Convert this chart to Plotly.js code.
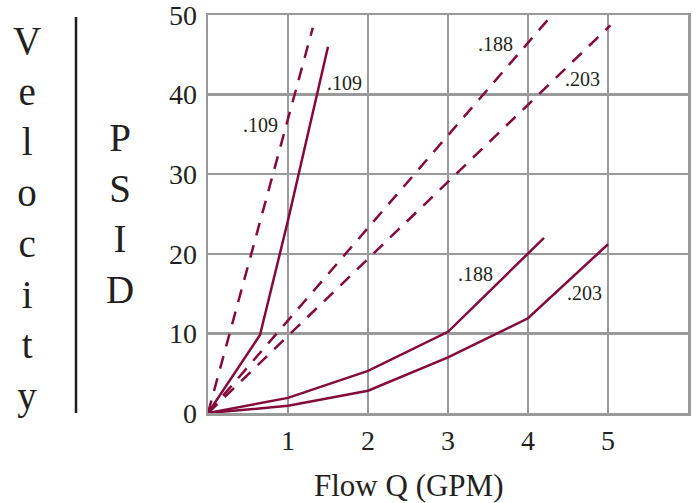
<!DOCTYPE html>
<html>
<head>
<meta charset="utf-8">
<script src="https://cdn.plot.ly/plotly-3.0.1.min.js"></script>
<style>html,body{margin:0;padding:0;background:#fff;}#chart{width:696px;height:503px;}</style>
</head>
<body>
<div id="chart"></div>
<script>
// PSID curves (solid)
const psid109X = [0, 0.65, 1.0, 1.5];
const psid109Y = [0, 9.8, 24.2, 46];
const psid188X = [0, 1, 2, 3, 4.2];
const psid188Y = [0, 1.9, 5.3, 10.2, 22];
const psid203X = [0, 1, 2, 3, 4, 5];
const psid203Y = [0, 0.9, 2.8, 7.0, 11.9, 21.2];
// Velocity curves (dashed)
const vel109X = [0, 1.31];
const vel109Y = [0, 48.4];
const vel188X = [0, 4.3];
const vel188Y = [0, 50];
const vel203X = [0, 5.03];
const vel203Y = [0, 48.7];
// curve labels
const labelText = ['.109', '.109', '.188', '.203', '.188', '.203'];
const labelX = [1.7, 0.65, 3.59, 4.675, 3.34, 4.71];
const labelY = [41.5, 36.2, 46.4, 42.0, 17.5, 15.1];
// ticks
const xTicks = [1, 2, 3, 4, 5];
const yTicks = [0, 10, 20, 30, 40, 50];

const lineColor = '#850a3c';
const textColor = '#231f20';
const font = 'Liberation Serif, Times New Roman, serif';

function tr(x, y, dash) {
  return {x: x, y: y, type: 'scatter', mode: 'lines', hoverinfo: 'skip', cliponaxis: false,
    line: {color: lineColor, width: 2.5, dash: dash}};
}
const dash = '13px,10px';
const data = [
  tr(psid109X, psid109Y, 'solid'),
  tr(psid188X, psid188Y, 'solid'),
  tr(psid203X, psid203Y, 'solid'),
  tr(vel109X, vel109Y, dash),
  tr(vel188X, vel188Y, dash),
  tr(vel203X, vel203Y, dash)
];

const annotations = labelText.map((t, i) => ({
  x: labelX[i], y: labelY[i], xref: 'x', yref: 'y', text: t, showarrow: false,
  font: {family: font, size: 20, color: textColor}
}));
annotations.push({
  x: 0.418, y: -0.181, xref: 'paper', yref: 'paper', text: 'Flow Q (GPM)', showarrow: false,
  xanchor: 'center', yanchor: 'middle', font: {family: font, size: 31, color: textColor}
});
annotations.push({
  x: -0.378, y: 0.488, xref: 'paper', yref: 'paper', text: 'V<br>e<br>l<br>o<br>c<br>i<br>t<br>y', showarrow: false,
  xanchor: 'center', yanchor: 'middle', font: {family: font, size: 39, color: textColor}
});
annotations.push({
  x: -0.183, y: 0.502, xref: 'paper', yref: 'paper', text: 'P<br>S<br>I<br>D', showarrow: false,
  xanchor: 'center', yanchor: 'middle', font: {family: font, size: 39, color: textColor}
});

const layout = {
  width: 696, height: 503,
  margin: {l: 208, r: 8, t: 15, b: 90},
  paper_bgcolor: '#fff', plot_bgcolor: '#fff',
  showlegend: false,
  xaxis: {range: [0, 6], tickvals: xTicks, ticktext: xTicks.map(String),
    showgrid: true, gridcolor: '#9a9a9b', gridwidth: 2.5,
    showline: true, linecolor: '#9a9a9b', linewidth: 2.5, mirror: true,
    zeroline: false, ticks: 'outside', ticklen: 1, tickcolor: 'rgba(0,0,0,0)',
    ticklabeloverflow: 'allow',
    tickfont: {family: font, size: 28, color: textColor}, fixedrange: true},
  yaxis: {range: [0, 50], tickvals: yTicks, ticktext: yTicks.map(String),
    showgrid: true, gridcolor: '#9a9a9b', gridwidth: 2.5,
    showline: true, linecolor: '#9a9a9b', linewidth: 2.5, mirror: true,
    zeroline: false, ticks: 'outside', ticklen: 3, tickcolor: 'rgba(0,0,0,0)',
    ticklabeloverflow: 'allow',
    tickfont: {family: font, size: 28, color: textColor}, fixedrange: true},
  shapes: [{type: 'line', xref: 'paper', yref: 'paper', x0: -0.275, x1: -0.275, y0: 0, y1: 0.995,
    line: {color: textColor, width: 2.5}}],
  annotations: annotations
};

Plotly.newPlot('chart', data, layout, {displayModeBar: false, staticPlot: true});
</script>
</body>
</html>
